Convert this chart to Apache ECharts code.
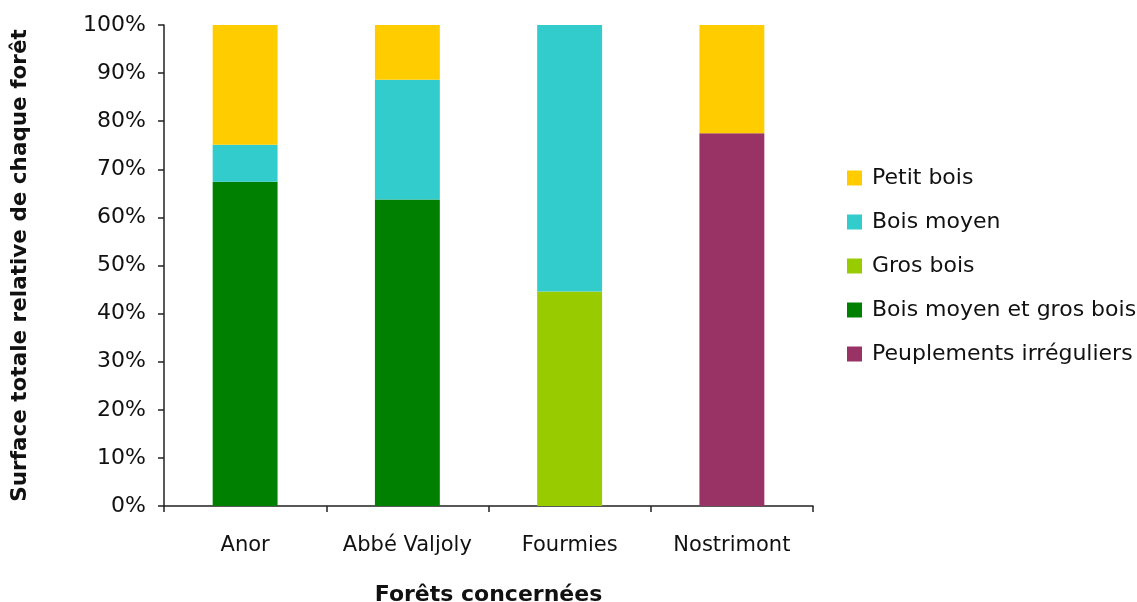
<!DOCTYPE html>
<html>
<head>
<meta charset="utf-8">
<script src="https://cdn.jsdelivr.net/npm/echarts@6/dist/echarts.min.js"></script>
<style>
  html, body { margin: 0; padding: 0; background: #fff; overflow: hidden; }
  #chart { width: 1137px; height: 602px; }
</style>
</head>
<body>
<div id="chart"></div>
<script>
// Forests along the x axis
const categories = ['Anor', 'Abbé Valjoly', 'Fourmies', 'Nostrimont'];

// Share (%) of each forest's total area by stand type
const boisMoyenEtGrosBois = [67.4, 63.7, null, null];
const grosBois = [null, null, 44.6, null];
const peuplementsIrreguliers = [null, null, null, 77.5];
const boisMoyen = [7.7, 24.9, 55.4, null];
const petitBois = [24.9, 11.4, null, 22.5];

const legendOrder = ['Petit bois', 'Bois moyen', 'Gros bois', 'Bois moyen et gros bois', 'Peuplements irréguliers'];

const FONT = '"DejaVu Sans", sans-serif';

function bar(name, data, color) {
  return {
    name: name,
    type: 'bar',
    stack: 'total',
    barWidth: '40%',
    data: data,
    itemStyle: { color: color },
    emphasis: { disabled: true }
  };
}

const chart = echarts.init(document.getElementById('chart'), null, { renderer: 'canvas' });
chart.setOption({
  animation: false,
  backgroundColor: '#ffffff',
  grid: { left: 164, right: 324, top: 25, bottom: 96, containLabel: false, outerBoundsMode: 'none' },
  legend: {
    data: legendOrder,
    orient: 'vertical',
    left: 847,
    top: 166,
    padding: 0,
    itemWidth: 15,
    itemHeight: 15,
    itemGap: 20,
    icon: 'rect',
    textStyle: { fontFamily: FONT, fontSize: 22, color: '#111', lineHeight: 24, padding: [0, 0, 0, 5] }
  },
  xAxis: {
    type: 'category',
    data: categories,
    name: 'Forêts concernées',
    nameLocation: 'middle',
    nameGap: 78,
    nameTextStyle: { fontFamily: FONT, fontSize: 22, fontWeight: 'bold', color: '#111' },
    axisLine: { lineStyle: { color: '#222', width: 1.5 } },
    axisTick: { show: true, interval: 0, length: 6, inside: false, lineStyle: { color: '#222', width: 1.5 } },
    axisLabel: { interval: 0, fontFamily: FONT, fontSize: 21, color: '#111', margin: 29 }
  },
  yAxis: {
    type: 'value',
    min: 0,
    max: 100,
    interval: 10,
    name: 'Surface totale relative de chaque forêt',
    nameLocation: 'middle',
    nameGap: 133,
    nameRotate: 90,
    nameTextStyle: { fontFamily: FONT, fontSize: 21.5, fontWeight: 'bold', color: '#111' },
    axisLine: { show: true, lineStyle: { color: '#222', width: 1.5 } },
    axisTick: { show: true, length: 6, lineStyle: { color: '#222', width: 1.5 } },
    splitLine: { show: false },
    axisLabel: { fontFamily: FONT, fontSize: 22, color: '#111', margin: 18, formatter: '{value}%' }
  },
  series: [
    bar('Bois moyen et gros bois', boisMoyenEtGrosBois, '#008000'),
    bar('Gros bois', grosBois, '#99CC00'),
    bar('Peuplements irréguliers', peuplementsIrreguliers, '#993366'),
    bar('Bois moyen', boisMoyen, '#33CCCC'),
    bar('Petit bois', petitBois, '#FFCC00')
  ]
});
</script>
</body>
</html>
